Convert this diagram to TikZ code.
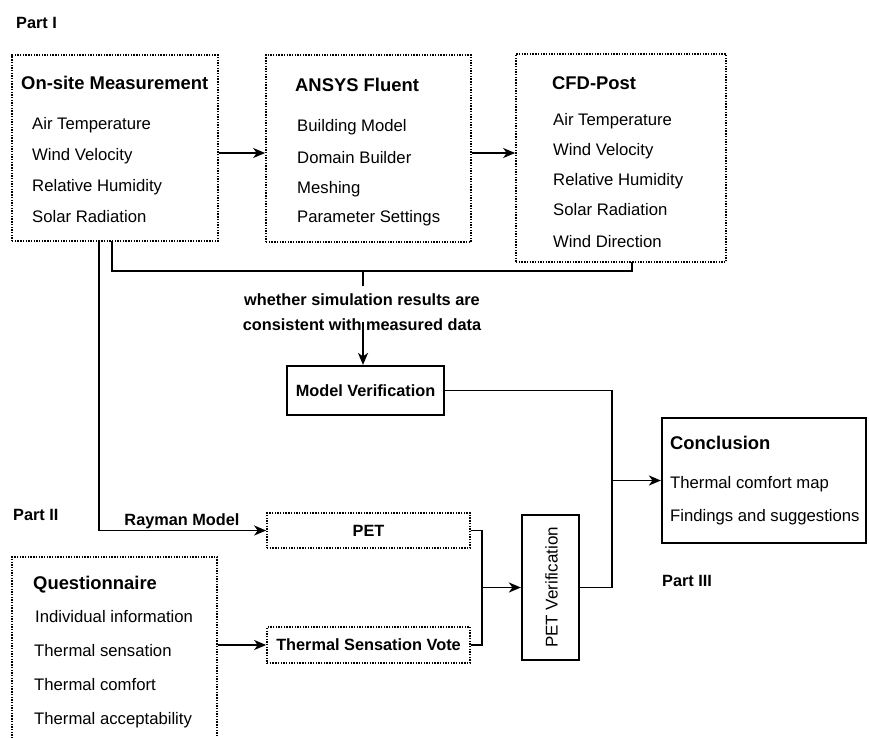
\documentclass[tikz,border=0pt]{standalone}
\usepackage{fontspec}
\setmainfont{Liberation Sans}
\usetikzlibrary{arrows.meta}
\begin{document}
\begin{tikzpicture}[x=1pt,y=-1pt,
  dotbox/.style={draw, line width=1.7pt, dash pattern=on 1.4pt off 1.3pt, inner sep=0pt},
  solidbox/.style={draw, line width=2.2pt, inner sep=0pt},
  itm/.style={anchor=base west, inner sep=0pt, font=\fontsize{16.7}{20}\selectfont},
  ttl/.style={anchor=base west, inner sep=0pt, font=\bfseries\fontsize{18.4}{22}\selectfont},
  lbl/.style={inner sep=0pt, font=\bfseries\fontsize{16.3}{20}\selectfont},
  conn/.style={line width=1.8pt},
  arr/.style={conn, -{Stealth[length=12pt,width=10pt,inset=3.5pt]}}
]
\useasboundingbox (0,0) rectangle (869,737);

% Part labels
\node[lbl, anchor=base west] (p1) at (16,28) {Part I};
\node[lbl, anchor=base west] (p2) at (13,520) {Part II};
\node[lbl, anchor=base west] (p3) at (662,586) {Part III};

% Box 1: On-site Measurement
\node[dotbox, minimum width=206pt, minimum height=186pt] (B1) at (115,148) {};
\node[ttl] (B1t) at (21,89.5) {On-site Measurement};
\node[itm] (B1a) at (32,129) {Air Temperature};
\node[itm] (B1b) at (32,160) {Wind Velocity};
\node[itm] (B1c) at (32,191) {Relative Humidity};
\node[itm] (B1d) at (32,222) {Solar Radiation};

% Box 2: ANSYS Fluent
\node[dotbox, minimum width=205pt, minimum height=187pt] (B2) at (368.5,148.5) {};
\node[ttl] (B2t) at (295,91.5) {ANSYS Fluent};
\node[itm] (B2a) at (297,131) {Building Model};
\node[itm] (B2b) at (297,163) {Domain Builder};
\node[itm] (B2c) at (297,193) {Meshing};
\node[itm] (B2d) at (297,222) {Parameter Settings};

% Box 3: CFD-Post
\node[dotbox, minimum width=210pt, minimum height=208pt] (B3) at (621,158) {};
\node[ttl] (B3t) at (552,89.5) {CFD-Post};
\node[itm] (B3a) at (553,125) {Air Temperature};
\node[itm] (B3b) at (553,155) {Wind Velocity};
\node[itm] (B3c) at (553,185) {Relative Humidity};
\node[itm] (B3d) at (553,215) {Solar Radiation};
\node[itm] (B3e) at (553,247) {Wind Direction};

% arrows between top boxes
\draw[arr] ([yshift=-5pt]B1.east) -- ([yshift=-5pt]B1.east -| B2.west);
\draw[arr] ([yshift=-4.5pt]B2.east) -- ([yshift=-4.5pt]B2.east -| B3.west);

% bracket
\coordinate (bl) at (112,241);
\coordinate (br) at (632,262);
\coordinate (bm) at (363,271);
\coordinate (bs) at (363,286);
\draw[conn] (bl) |- (bm) -| (br);
\draw[conn] (bm) -- (bs);

\node[lbl, anchor=base] (w1) at (362,305) {whether simulation results are};
\node[lbl, anchor=base] (w2) at (362,330) {consistent with measured data};
\coordinate (ws) at (363,322);

% Model Verification
\node[solidbox, minimum width=157pt, minimum height=49pt, font=\bfseries\fontsize{16.3}{20}\selectfont] (MV) at (365.5,390.5) {Model Verification};
\draw[arr] (ws) -- (ws |- MV.north);

% Rayman line to PET
\coordinate (ml) at (99,241);
\node[dotbox, minimum width=203pt, minimum height=35pt, font=\bfseries\fontsize{16.3}{20}\selectfont] (PET) at (368.5,530.5) {PET};
\node[lbl, anchor=base] (ray) at (182,525) {Rayman Model};
\draw[arr] (ml) |- (PET.west);

% Questionnaire
\node[dotbox, minimum width=205pt, minimum height=193pt] (Q) at (114.5,653.5) {};
\node[ttl] (Qt) at (33,589.5) {Questionnaire};
\node[itm] (Qa) at (35,622) {Individual information};
\node[itm] (Qb) at (34,656) {Thermal sensation};
\node[itm] (Qc) at (34,690) {Thermal comfort};
\node[itm] (Qd) at (34,724) {Thermal acceptability};

% TSV
\node[dotbox, minimum width=203pt, minimum height=36pt, font=\bfseries\fontsize{16.3}{20}\selectfont] (TSV) at (368.5,645) {Thermal Sensation Vote};
\draw[arr] (Q.east |- TSV.west) -- (TSV.west);

% PET Verification
\node[solidbox, minimum width=57pt, minimum height=145pt] (PV) at (550.5,587.5) {};
\node[rotate=90, inner sep=0pt, font=\fontsize{17}{20}\selectfont] (PVt) at (551.5,587.5) {PET Verification};
\coordinate (jn) at (482,587.5);
\draw[conn] (PET.east) -| (jn) |- (TSV.east);
\draw[arr] (jn) -- (PV.west);

% Conclusion
\node[solidbox, minimum width=204pt, minimum height=125pt] (C) at (764,480.5) {};
\node[ttl] (Ct) at (670,449.5) {Conclusion};
\node[itm] (Ca) at (670,488) {Thermal comfort map};
\node[itm] (Cb) at (670,521) {Findings and suggestions};

\coordinate (jr) at (612,587.5);
\coordinate (jc) at (612,480.5);
\draw[conn] (MV.east) -| (jr) -- (PV.east);
\draw[arr] (jc) -- (C.west);
\end{tikzpicture}
\end{document}
